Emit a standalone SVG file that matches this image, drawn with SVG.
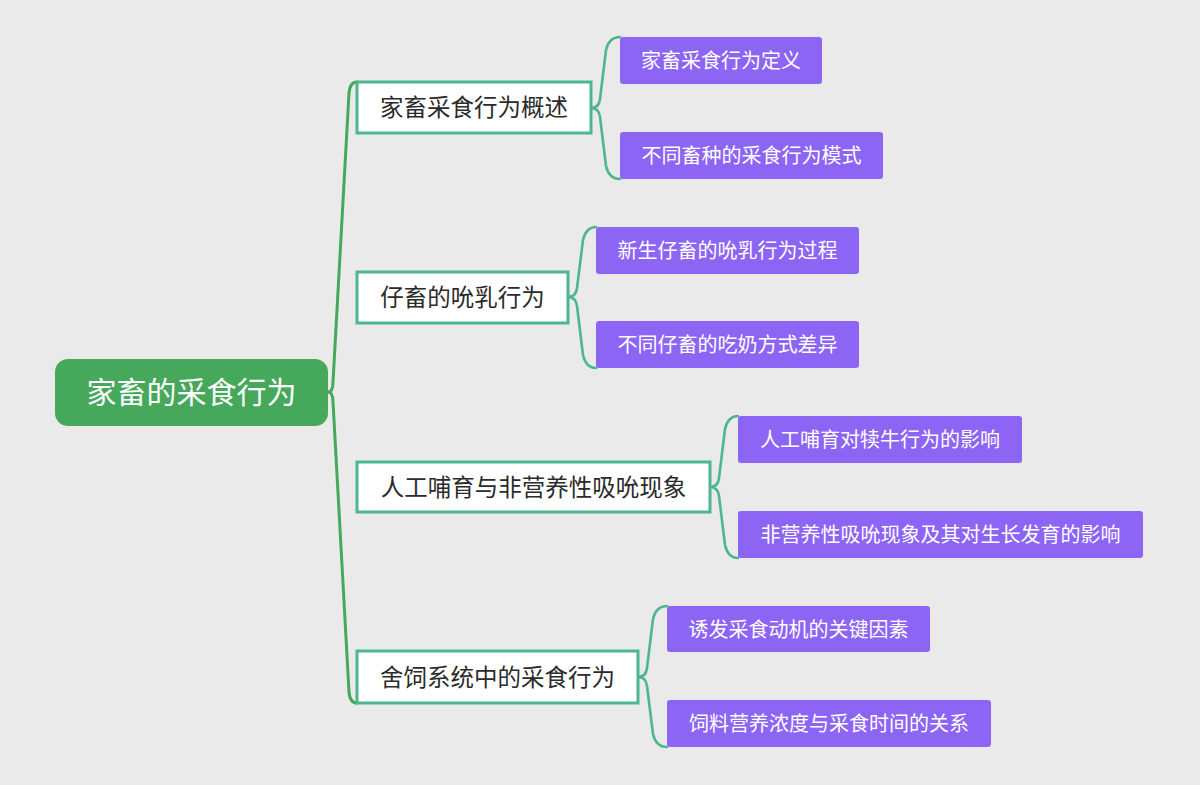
<svg xmlns="http://www.w3.org/2000/svg" width="1200" height="785" viewBox="0 0 1200 785">
<style>
text{font-family:"Noto Sans CJK SC","Noto Sans",sans-serif;text-anchor:middle;dominant-baseline:central}
.root rect{fill:#45A85B}
.root text{fill:#fff;font-size:30px}
.l1 rect{fill:#fff;stroke:#4DB68F;stroke-width:3}
.l1 text{fill:#2b2b2b;font-size:23.5px}
.l2 rect{fill:#8D65F5}
.l2 text{fill:#fff;font-size:20px}
.main{fill:none;stroke:#45A85B;stroke-width:3;stroke-linecap:round}
.sub{fill:none;stroke:#4DB68F;stroke-width:2.6;stroke-linecap:round}
</style>
<rect width="1200" height="785" fill="#EAEAEA"/>
<g id="connectors">
<path class="main" d="M328,392 Q333,392 333,382 L349,93 Q350,82 357,82"/>
<path class="main" d="M328,392 Q333,392 333,402 L349,692 Q350,703 357,703"/>
<path class="sub" d="M591,108 Q599,108 600,99 L606,50 Q609,37 620,37"/>
<path class="sub" d="M591,108 Q599,108 600,117 L606,166 Q609,179 620,179"/>
<path class="sub" d="M568,297 Q576,297 577,288 L583,240 Q586,227 596,227"/>
<path class="sub" d="M568,297 Q576,297 577,306 L583,355 Q586,368 596,368"/>
<path class="sub" d="M710,487 Q718,487 719,478 L725,429 Q728,416 738,416"/>
<path class="sub" d="M710,487 Q718,487 719,496 L725,545 Q728,558 738,558"/>
<path class="sub" d="M638,677 Q646,677 647,668 L653,619 Q656,606 667,606"/>
<path class="sub" d="M638,677 Q646,677 647,686 L653,734 Q656,747 667,747"/>
</g>
<g id="root" class="root"><rect x="55" y="359" width="273" height="67" rx="13"/><text x="191.5" y="390">家畜的采食行为</text></g>
<g id="n1" class="l1"><rect x="357" y="82" width="234" height="51"/><text x="474" y="106">家畜采食行为概述</text></g>
<g id="n2" class="l1"><rect x="357" y="272" width="211" height="51"/><text x="462.5" y="296">仔畜的吮乳行为</text></g>
<g id="n3" class="l1"><rect x="357" y="462" width="353" height="50"/><text x="533.5" y="485.5">人工哺育与非营养性吸吮现象</text></g>
<g id="n4" class="l1"><rect x="357" y="651" width="281" height="52"/><text x="497.5" y="675.5">舍饲系统中的采食行为</text></g>
<g id="n1a" class="l2"><rect x="620" y="37" width="202" height="47" rx="3"/><text x="721" y="59.5">家畜采食行为定义</text></g>
<g id="n1b" class="l2"><rect x="620" y="132" width="263" height="47" rx="3"/><text x="751.5" y="154.5">不同畜种的采食行为模式</text></g>
<g id="n2a" class="l2"><rect x="596" y="227" width="263" height="47" rx="3"/><text x="727.5" y="249.5">新生仔畜的吮乳行为过程</text></g>
<g id="n2b" class="l2"><rect x="596" y="321" width="263" height="47" rx="3"/><text x="727.5" y="343.5">不同仔畜的吃奶方式差异</text></g>
<g id="n3a" class="l2"><rect x="738" y="416" width="284" height="47" rx="3"/><text x="880" y="438.5">人工哺育对犊牛行为的影响</text></g>
<g id="n3b" class="l2"><rect x="738" y="511" width="405" height="47" rx="3"/><text x="940.5" y="533.5">非营养性吸吮现象及其对生长发育的影响</text></g>
<g id="n4a" class="l2"><rect x="667" y="606" width="263" height="46" rx="3"/><text x="798.5" y="628">诱发采食动机的关键因素</text></g>
<g id="n4b" class="l2"><rect x="667" y="700" width="324" height="47" rx="3"/><text x="829" y="722.5">饲料营养浓度与采食时间的关系</text></g>
</svg>
